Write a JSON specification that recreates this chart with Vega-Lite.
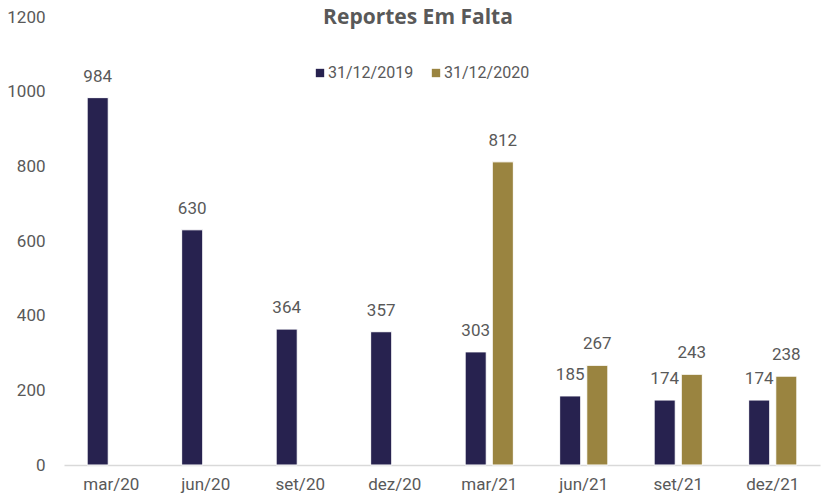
{
  "$schema": "https://vega.github.io/schema/vega-lite/v6.json",
  "width": 756,
  "height": 448,
  "autosize": "none",
  "padding": {"left": 64, "top": 17, "right": 3, "bottom": 34},
  "background": "white",
  "title": {
    "text": "Reportes Em Falta",
    "font": "Open Sans",
    "fontSize": 21,
    "fontWeight": "bold",
    "color": "#595959",
    "anchor": "middle",
    "frame": "group",
    "dx": -24,
    "offset": -20
  },
  "config": {
    "view": {"stroke": null},
    "font": "Roboto"
  },
  "data": {
    "values": [
      {"mes": "mar/20", "serie": "31/12/2019", "valor": 984},
      {"mes": "jun/20", "serie": "31/12/2019", "valor": 630},
      {"mes": "set/20", "serie": "31/12/2019", "valor": 364},
      {"mes": "dez/20", "serie": "31/12/2019", "valor": 357},
      {"mes": "mar/21", "serie": "31/12/2019", "valor": 303},
      {"mes": "jun/21", "serie": "31/12/2019", "valor": 185},
      {"mes": "set/21", "serie": "31/12/2019", "valor": 174},
      {"mes": "dez/21", "serie": "31/12/2019", "valor": 174},
      {"mes": "mar/21", "serie": "31/12/2020", "valor": 812},
      {"mes": "jun/21", "serie": "31/12/2020", "valor": 267},
      {"mes": "set/21", "serie": "31/12/2020", "valor": 243},
      {"mes": "dez/21", "serie": "31/12/2020", "valor": 238}
    ]
  },
  "encoding": {
    "x": {
      "field": "mes",
      "type": "nominal",
      "sort": ["mar/20", "jun/20", "set/20", "dez/20", "mar/21", "jun/21", "set/21", "dez/21"],
      "scale": {"paddingInner": 0.49, "paddingOuter": 0.245},
      "axis": {
        "title": null,
        "labelAngle": 0,
        "labelFont": "Roboto",
        "labelFontSize": 17,
        "labelColor": "#595959",
        "labelPadding": 11,
        "ticks": false,
        "domainColor": "#D9D9D9",
        "domainWidth": 1.5
      }
    },
    "xOffset": {
      "field": "serie",
      "type": "nominal",
      "scale": {"domain": ["31/12/2019", "31/12/2020"], "paddingInner": 0.222, "paddingOuter": 0}
    },
    "y": {
      "field": "valor",
      "type": "quantitative",
      "scale": {"domain": [0, 1200], "nice": false},
      "axis": {
        "title": null,
        "values": [0, 200, 400, 600, 800, 1000, 1200],
        "format": "d",
        "grid": false,
        "domain": false,
        "ticks": false,
        "labelFont": "Roboto",
        "labelFontSize": 17,
        "labelColor": "#595959",
        "labelPadding": 19
      }
    }
  },
  "layer": [
    {
      "mark": {"type": "bar", "stroke": "white", "strokeWidth": 1},
      "encoding": {
        "color": {
          "field": "serie",
          "type": "nominal",
          "scale": {"domain": ["31/12/2019", "31/12/2020"], "range": ["#27224F", "#9A8440"]},
          "legend": {
            "title": null,
            "orient": "none",
            "direction": "horizontal",
            "legendX": 248,
            "legendY": 48,
            "padding": 0,
            "symbolType": "square",
            "symbolSize": 70,
            "symbolStrokeWidth": 0,
            "labelFont": "Roboto",
            "labelFontSize": 16,
            "labelColor": "#595959",
            "labelOffset": 0,
            "columnPadding": 14
          }
        }
      }
    },
    {
      "mark": {"type": "text", "baseline": "alphabetic", "dy": -16, "fontSize": 17, "color": "#595959", "font": "Roboto"},
      "encoding": {"text": {"field": "valor", "type": "quantitative"}}
    }
  ]
}
